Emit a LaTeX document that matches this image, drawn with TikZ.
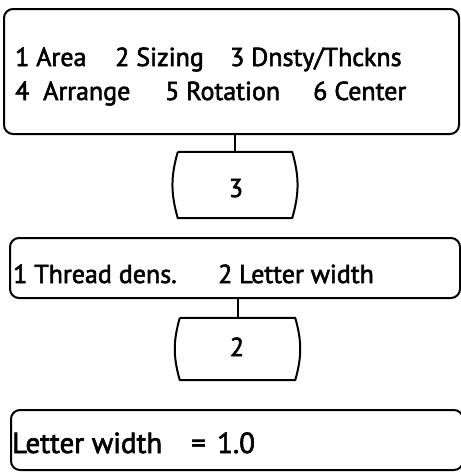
\documentclass[tikz,border=0pt]{standalone}
\usepackage{fontspec}
\setmainfont{PT Sans}
\newfontfamily\reffont{PT Sans}[FakeBold=2.2]
\begin{document}
\begin{tikzpicture}[x=1pt,y=-1pt,
  box/.style={draw, line width=2pt, rounded corners=9pt, inner sep=0pt},
  selbox/.style={inner sep=0pt, append after command={
      \pgfextra{\draw[line width=2pt, line join=round]
        (\tikzlastnode.north west) -- (\tikzlastnode.north east)
        to[bend left=16] (\tikzlastnode.south east) -- (\tikzlastnode.south west)
        to[bend left=16] (\tikzlastnode.north west);}}},
  txt/.style={inner sep=0pt, anchor=base west, font=\reffont\fontsize{26}{30}\selectfont},
  bigtxt/.style={txt, font=\reffont\fontsize{29}{34}\selectfont},
  ctxt/.style={inner sep=0pt, anchor=base, font=\reffont\fontsize{26}{30}\selectfont},
  wire/.style={line width=2pt}]
\useasboundingbox (0,0) rectangle (461,472);
% boxes
\node[box, minimum width=455pt, minimum height=125pt] (b1) at (231.5,71.5) {};
\node[selbox, minimum width=114pt, minimum height=66pt] (s3) at (235,185) {};
\node[box, minimum width=450pt, minimum height=60pt] (b2) at (235,268) {};
\node[selbox, minimum width=115pt, minimum height=62pt] (s2) at (237.5,349) {};
\node[box, minimum width=452pt, minimum height=60pt] (b3) at (237,440) {};
% texts
\node[txt] (t1) at (15,66) {1 Area};
\node[txt] (t2) at (115,66) {2 Sizing};
\node[txt] (t3) at (230,66) {3 Dnsty/Thckns};
\node[txt] (t4) at (15,100) {4};
\node[txt] (t4b) at (43,100) {Arrange};
\node[txt] (t5) at (165,100) {5 Rotation};
\node[txt] (t6) at (313,100) {6 Center};
\node[ctxt] (n3) at (236,197) {3};
\node[txt] (u1) at (13,283) {1 Thread dens.};
\node[txt] (u2) at (218,283) {2 Letter width};
\node[ctxt] (n2) at (237,356) {2};
\node[bigtxt] (v1) at (12,453) {Letter width};
\node[bigtxt] (v2) at (191,453) {=};
\node[bigtxt] (v3) at (217,453) {1.0};
% connectors
\draw[wire] (s3.north) -- (s3.north |- b1.south);
\draw[wire] (s2.north) -- (s2.north |- b2.south);
\end{tikzpicture}
\end{document}
